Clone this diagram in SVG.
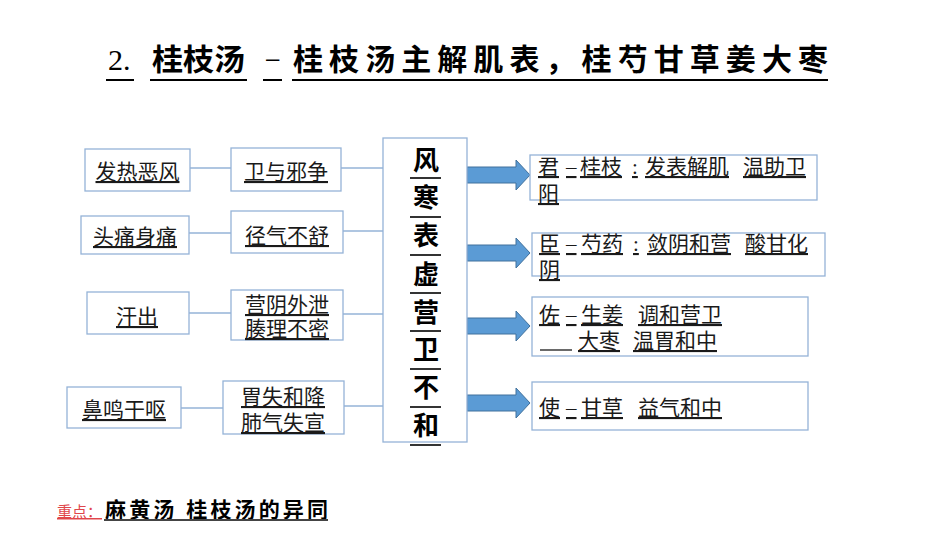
<svg xmlns="http://www.w3.org/2000/svg" width="950" height="535" viewBox="0 0 950 535">
<style>
.box{fill:#fff;stroke:#95B3D7;stroke-width:1.3}
.con{stroke:#95B3D7;stroke-width:1.3;fill:none}
.t{font-family:"Liberation Serif","Noto Sans CJK SC",serif;font-size:21px;fill:#1a1a1a;text-decoration:underline}
.tc{text-anchor:middle}
.v{font-family:"Liberation Serif","Noto Sans CJK SC",serif;font-size:26px;font-weight:700;fill:#000;text-anchor:middle}
.vl{stroke:#000;stroke-width:1.6}
.ttl{font-family:"Liberation Sans","Noto Sans CJK SC",sans-serif;font-size:30px;font-weight:700;fill:#000}
.ul{stroke:#000;stroke-width:2}
.arr{fill:#5B9BD5;stroke:#41719C;stroke-width:1}
</style>
<defs>
<path id="arrow" class="arr" d="M467,-8 H516 V-15 L530,0 L516,15 V8 H467 Z"/>
</defs>
<rect width="950" height="535" fill="#fff"/>

<g id="title">
<text x="108" y="70" style="font-family:'Liberation Serif',serif;font-size:30px;fill:#000">2.</text>
<text class="ttl" x="152" y="70" textLength="93" lengthAdjust="spacingAndGlyphs">桂枝汤</text>
<text x="266" y="66" style="font-family:'Liberation Sans',sans-serif;font-size:24px;fill:#000">–</text>
<text class="ttl" x="293" y="70" textLength="535" lengthAdjust="spacing">桂枝汤主解肌表，桂芍甘草姜大枣</text>
<line class="ul" x1="106" y1="80" x2="134" y2="80"/>
<line class="ul" x1="150" y1="80" x2="247" y2="80"/>
<line class="ul" x1="263" y1="80" x2="282" y2="80"/>
<line class="ul" x1="292" y1="80" x2="828" y2="80"/>
</g>

<g id="connectors">
<line class="con" x1="190" y1="168" x2="231" y2="168"/>
<line class="con" x1="341" y1="168" x2="383" y2="168"/>
<line class="con" x1="189" y1="233" x2="231" y2="233"/>
<line class="con" x1="343" y1="231" x2="383" y2="231"/>
<line class="con" x1="189" y1="313" x2="231" y2="313"/>
<line class="con" x1="343" y1="314" x2="383" y2="314"/>
<line class="con" x1="181" y1="408" x2="223" y2="408"/>
<line class="con" x1="344" y1="406" x2="383" y2="406"/>
<use href="#arrow" y="175"/>
<use href="#arrow" y="253"/>
<use href="#arrow" y="326"/>
<use href="#arrow" y="403"/>
</g>

<g id="a1"><rect class="box" x="85" y="149" width="105" height="42"/><text class="t tc" x="137.5" y="179">发热恶风</text></g>
<g id="b1"><rect class="box" x="231" y="148" width="110" height="43"/><text class="t tc" x="286" y="179">卫与邪争</text></g>
<g id="a2"><rect class="box" x="81" y="216" width="108" height="38"/><text class="t tc" x="135" y="244">头痛身痛</text></g>
<g id="b2"><rect class="box" x="231" y="211" width="112" height="42"/><text class="t tc" x="287" y="243">径气不舒</text></g>
<g id="a3"><rect class="box" x="87" y="292" width="102" height="42"/><text class="t tc" x="137" y="324">汗出</text></g>
<g id="b3"><rect class="box" x="231" y="290" width="112" height="50"/><text class="t tc" x="287" y="312">营阴外泄</text><text class="t tc" x="287" y="336">腠理不密</text></g>
<g id="a4"><rect class="box" x="67" y="387" width="114" height="41"/><text class="t tc" x="124" y="417">鼻鸣干呕</text></g>
<g id="b4"><rect class="box" x="223" y="381" width="121" height="53"/><text class="t tc" x="283" y="404">胃失和降</text><text class="t tc" x="283" y="430">肺气失宣</text></g>

<g id="center">
<rect class="box" x="383" y="138" width="84" height="304"/>
<text class="v" x="426" y="170">风</text>
<text class="v" x="426" y="207">寒</text>
<text class="v" x="426" y="245">表</text>
<text class="v" x="426" y="284">虚</text>
<text class="v" x="426" y="322">营</text>
<text class="v" x="426" y="359">卫</text>
<text class="v" x="426" y="397">不</text>
<text class="v" x="426" y="435">和</text>
<line class="vl" x1="410" y1="178" x2="441" y2="178"/>
<line class="vl" x1="410" y1="217" x2="441" y2="217"/>
<line class="vl" x1="410" y1="255" x2="441" y2="255"/>
<line class="vl" x1="410" y1="293" x2="441" y2="293"/>
<line class="vl" x1="410" y1="331" x2="441" y2="331"/>
<line class="vl" x1="410" y1="369" x2="441" y2="369"/>
<line class="vl" x1="410" y1="407" x2="441" y2="407"/>
<line class="vl" x1="410" y1="445" x2="441" y2="445"/>
</g>

<g id="r1"><rect class="box" x="530" y="155" width="287" height="45"/>
<text class="t" y="174"><tspan x="538">君</tspan><tspan x="566">–</tspan><tspan x="580">桂枝</tspan><tspan x="632">:</tspan><tspan x="645">发表解肌</tspan><tspan x="743">温助卫</tspan></text>
<text class="t" x="538" y="201">阳</text></g>
<g id="r2"><rect class="box" x="532" y="233" width="293" height="43"/>
<text class="t" y="251"><tspan x="539">臣</tspan><tspan x="566">–</tspan><tspan x="581">芍药</tspan><tspan x="633">:</tspan><tspan x="647">敛阴和营</tspan><tspan x="745">酸甘化</tspan></text>
<text class="t" x="539" y="277">阴</text></g>
<g id="r3"><rect class="box" x="532" y="297" width="276" height="59"/>
<text class="t" y="322"><tspan x="539">佐</tspan><tspan x="566">–</tspan><tspan x="581">生姜</tspan><tspan x="638">调和营卫</tspan></text>
<line x1="540" y1="350" x2="572" y2="350" stroke="#1a1a1a" stroke-width="1.3"/>
<text class="t" y="348"><tspan x="578">大枣</tspan><tspan x="633">温胃和中</tspan></text></g>
<g id="r4"><rect class="box" x="532" y="382" width="276" height="48"/>
<text class="t" y="415"><tspan x="539">使</tspan><tspan x="566">–</tspan><tspan x="581">甘草</tspan><tspan x="638">益气和中</tspan></text></g>

<g id="note">
<text x="57" y="517" style="font-family:'Liberation Serif','Noto Sans CJK SC',serif;font-size:15px;fill:#E0464B;text-decoration:underline">重点：</text>
<text x="105" y="517" textLength="223" lengthAdjust="spacing" style="font-family:'Liberation Sans','Noto Sans CJK SC',sans-serif;font-size:21px;font-weight:700;fill:#000">麻黄汤  桂枝汤的异同</text>
<line x1="104" y1="520" x2="328" y2="520" stroke="#444" stroke-width="2"/>
</g>
</svg>
